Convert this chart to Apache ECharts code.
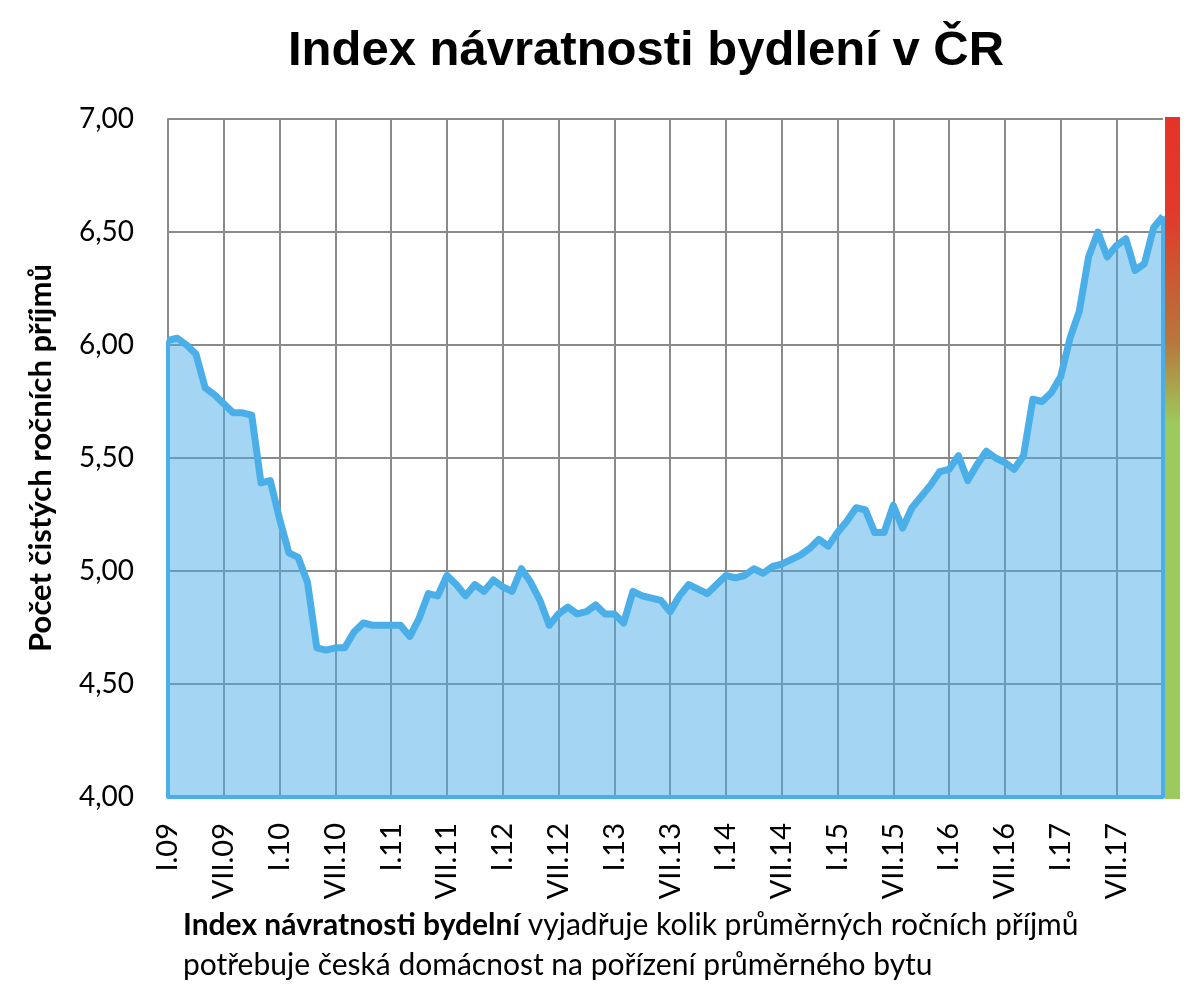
<!DOCTYPE html>
<html>
<head>
<meta charset="utf-8">
<script src="https://cdn.jsdelivr.net/npm/echarts@6/dist/echarts.min.js"></script>
<style>
html,body{margin:0;padding:0;background:#fff;}
#chart{width:1194px;height:998px;}
</style>
</head>
<body>
<div id="chart"></div>
<script>
const monthNames = ['I','II','III','IV','V','VI','VII','VIII','IX','X','XI','XII'];
const years = ['09','10','11','12','13','14','15','16','17'];
const values = [
  6.02, 6.03, 6.00, 5.96, 5.81, 5.78, 5.74, 5.70, 5.70, 5.69, 5.39, 5.40,
  5.23, 5.08, 5.06, 4.95, 4.66, 4.65, 4.66, 4.66, 4.73, 4.77, 4.76, 4.76,
  4.76, 4.76, 4.71, 4.79, 4.90, 4.89, 4.98, 4.94, 4.89, 4.94, 4.91, 4.96,
  4.93, 4.91, 5.01, 4.95, 4.87, 4.76, 4.81, 4.84, 4.81, 4.82, 4.85, 4.81,
  4.81, 4.77, 4.91, 4.89, 4.88, 4.87, 4.82, 4.89, 4.94, 4.92, 4.90, 4.94,
  4.98, 4.97, 4.98, 5.01, 4.99, 5.02, 5.03, 5.05, 5.07, 5.10, 5.14, 5.11,
  5.17, 5.22, 5.28, 5.27, 5.17, 5.17, 5.29, 5.19, 5.28, 5.33, 5.38, 5.44,
  5.45, 5.51, 5.40, 5.47, 5.53, 5.50, 5.48, 5.45, 5.51, 5.76, 5.75, 5.79,
  5.86, 6.03, 6.15, 6.39, 6.50, 6.39, 6.44, 6.47, 6.33, 6.36, 6.52, 6.57
];
const categories = [];
years.forEach(y => monthNames.forEach(m => categories.push(m + '.' + y)));

const yMin = 4, yMax = 7, yStep = 0.5;
const titleText = 'Index návratnosti bydlení v ČR';
const yName = 'Počet čistých ročních příjmů';
const noteBold = 'Index návratnosti bydelní';
const noteRest1 = ' vyjadřuje kolik průměrných ročních příjmů';
const noteLine2 = 'potřebuje česká domácnost na pořízení průměrného bytu';

const blue = '#4aaee8';
const gridGray = '#8a8a8a';
const last = values.length - 1;

const chart = echarts.init(document.getElementById('chart'), null, {renderer: 'canvas'});
chart.setOption({
  animation: false,
  backgroundColor: '#ffffff',
  title: {
    text: titleText,
    left: 283, top: 22,
    textStyle: {fontFamily: 'Liberation Sans', fontWeight: 'bold', fontSize: 49, color: '#000'}
  },
  grid: {left: 168, right: 31, top: 119, bottom: 201, containLabel: false},
  xAxis: {
    type: 'category',
    data: categories,
    boundaryGap: false,
    axisLine: {show: true, lineStyle: {color: blue, width: 4}},
    axisTick: {show: false},
    axisLabel: {
      interval: 5, rotate: 90, margin: 26,
      fontFamily: 'Lato', fontSize: 29, color: '#000'
    },
    splitLine: {show: true, interval: 5, lineStyle: {color: gridGray, width: 2}}
  },
  yAxis: {
    type: 'value',
    min: yMin, max: yMax, interval: yStep,
    axisLine: {show: true, lineStyle: {color: gridGray, width: 2}},
    axisTick: {show: false},
    axisLabel: {
      margin: 34, fontFamily: 'Lato', fontSize: 28, color: '#000',
      formatter: v => v.toFixed(2).replace('.', ',')
    },
    splitLine: {show: true, lineStyle: {color: gridGray, width: 2}},
    name: yName,
    nameLocation: 'middle',
    nameRotate: 90,
    nameGap: 112,
    nameTextStyle: {fontFamily: 'Lato', fontWeight: 'bold', fontSize: 31, color: '#000'}
  },
  series: [{
    type: 'line',
    data: values,
    symbol: 'none',
    lineStyle: {color: blue, width: 7, join: 'round'},
    areaStyle: {color: blue, opacity: 0.5},
    z: 3,
    markLine: {
      silent: true,
      symbol: 'none',
      label: {show: false},
      lineStyle: {color: blue, width: 4, type: 'solid'},
      data: [
        [{coord: [categories[0], yMin]}, {coord: [categories[0], values[0]]}],
        [{coord: [categories[last], yMin]}, {coord: [categories[last], values[last]]}]
      ]
    }
  }],
  graphic: [
    {
      type: 'rect',
      left: 1165, top: 117,
      shape: {width: 15, height: 682},
      style: {
        fill: new echarts.graphic.LinearGradient(0, 0, 0, 1, [
          {offset: 0, color: '#e6332a'},
          {offset: 0.14, color: '#e2392b'},
          {offset: 0.33, color: '#b7773b'},
          {offset: 0.45, color: '#9dca5c'},
          {offset: 1, color: '#9dca5c'}
        ])
      }
    },
    {
      type: 'text',
      left: 183, top: 905,
      style: {
        rich: {
          b: {fontFamily: 'Lato', fontWeight: 'bold', fontSize: 30, fill: '#000', lineHeight: 40},
          r: {fontFamily: 'Lato', fontSize: 30, fill: '#000', lineHeight: 40}
        },
        text: '{b|' + noteBold + '}{r|' + noteRest1 + '}\n{r|' + noteLine2 + '}',
        lineHeight: 40,
        fontSize: 30,
        fontFamily: 'Lato'
      }
    }
  ]
});
</script>
</body>
</html>
